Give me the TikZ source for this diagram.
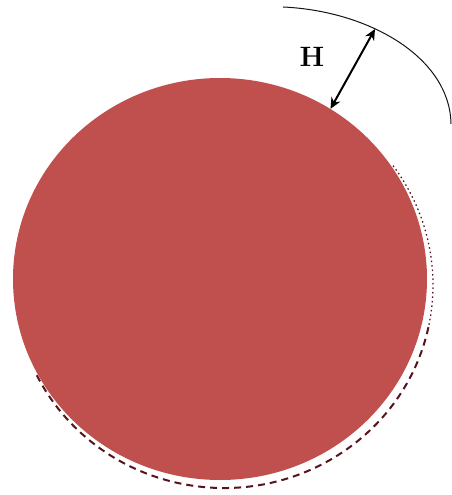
\documentclass[tikz,border=0pt]{standalone}
\usetikzlibrary{
  arrows.meta,
  shapes.geometric
}
\definecolor{planetRed}{RGB}{192,80,77}
\definecolor{planetShade}{RGB}{85,20,30}
\definecolor{orbitLine}{RGB}{20,20,20}
\tikzset{
  planet/.style={
    ellipse,
    fill=planetRed,
    draw=none,
    inner sep=0pt,
    minimum width=414pt,
    minimum height=402pt
  },
  shadeline/.style={
    draw=planetShade,
    line width=2pt,
    dash pattern=on 7pt off 5pt
  },
  shadedots/.style={
    draw=planetShade,
    line width=1.3pt,
    dash pattern=on 1.5pt off 3pt
  },
  orbit/.style={
    draw=orbitLine,
    line width=1pt
  },
  hdim/.style={
    {Stealth[length=11pt,width=10pt]}-{Stealth[length=11pt,width=10pt]},
    line width=2pt,
    draw=black
  },
  hlabel/.style={
    font=\fontsize{28}{30}\selectfont\bfseries,
    inner sep=0pt
  }
}
\begin{document}
\begin{tikzpicture}[x=1pt,y=-1pt]
  \useasboundingbox (0,0) rectangle (452,495);

  % broken shadow round the lower right
  \draw[shadedots] (224,285) ++(-36:209 and 203) arc[start angle=-36, end angle=12, x radius=209, y radius=203];
  \draw[shadeline] (224,285) ++(12:209 and 203) arc[start angle=12, end angle=154, x radius=209, y radius=203];

  \node[planet] (planet) at (220,279) {};

  % outer surface
  \coordinate (orbitstart) at (283,7);
  \coordinate (orbitend) at (451,124);
  \draw[orbit] (orbitstart) .. controls (370,11) and (450,58) .. (orbitend);

  \coordinate (outer) at (375,29);
  \draw[hdim] (planet.57) -- (outer);
  \node[hlabel] (hmark) at (312,57) {H};
\end{tikzpicture}
\end{document}
